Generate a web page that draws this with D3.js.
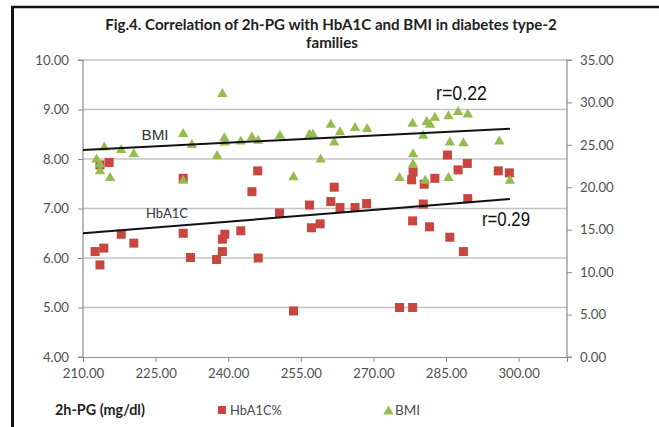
<!DOCTYPE html>
<html><head><meta charset="utf-8">
<script src="https://cdn.jsdelivr.net/npm/d3@7"></script>
<style>html,body{margin:0;padding:0;background:#fff;}svg{display:block;}</style>
</head><body>
<svg id="chart" width="659" height="427"></svg>
<script>
// ---- data ----
const pg = [212.5,213.5,214.3,213.5,215.4,217.9,220.5,230.7,230.7,232.2,237.6,238.8,238.8,239.3,242.6,244.9,246.1,246.2,250.6,253.5,256.8,257.2,259.0,261.2,261.9,263.1,266.2,268.6,275.4,278.1,278.1,278.2,277.9,280.5,280.3,281.6,282.7,285.3,285.8,287.5,288.6,289.4,289.5,295.8,298.1];
const hba1c = [6.13,5.86,6.20,7.88,7.93,6.48,6.30,7.61,6.50,6.01,5.97,6.13,6.38,6.48,6.55,7.34,7.76,6.00,6.91,4.93,7.07,6.61,6.69,7.14,7.43,7.02,7.02,7.10,5.00,5.00,6.75,7.74,7.58,7.49,7.09,6.63,7.61,8.08,6.42,7.78,6.13,7.91,7.20,7.76,7.72];
const pgB = [212.8,213.5,213.5,214.4,215.6,217.9,220.5,230.7,232.5,230.7,237.7,238.8,239.2,239.3,242.6,244.9,246.2,250.7,253.5,256.8,257.5,259.1,261.2,261.9,263.1,266.2,268.7,275.4,278.1,278.2,278.2,280.3,281.0,281.7,280.7,282.7,285.5,285.5,285.8,287.5,288.6,289.5,296.0,298.2];
const bmi = [23.4,22.8,22.0,24.8,21.2,24.5,24.0,26.4,25.1,20.9,23.8,31.1,25.9,25.4,25.5,26.0,25.6,26.2,21.3,26.3,26.3,23.4,27.5,25.4,26.6,27.1,27.0,21.2,27.6,24.0,22.8,26.2,27.8,27.5,20.9,28.3,28.5,21.2,25.4,29.0,25.3,28.7,25.5,20.9];
const trendX = [210, 298.2];
const trendHb = [6.5, 7.19];
const trendBmi = [24.4, 26.9];
const xTicks = [210,225,240,255,270,285,300];
const leftTicks = [4,5,6,7,8,9,10];
const rightTicks = [0,5,10,15,20,25,30,35];
const titleLines = ["Fig.4. Correlation of 2h-PG with HbA1C and BMI in diabetes type-2","families"];

// ---- chart ----
const svg = d3.select("#chart");
const L = 83, R = 567, T = 60, B = 357;
const x = d3.scaleLinear().domain([210,310]).range([L,R]);
const yL = d3.scaleLinear().domain([4,10]).range([B,T]);
const yR = d3.scaleLinear().domain([0,35]).range([B,T]);
const fmt = d3.format(".2f");
const tickFont = "Lato, 'Open Sans', sans-serif";
const red = "#c8463f", green = "#96bc4f";

function fit(sel, w){
  const n = sel.node(); const fs = parseFloat(sel.attr("font-size"));
  const m = n.getComputedTextLength(); if (m>0) sel.attr("font-size", fs*w/m);
  return sel;
}

// frame
svg.append("line").attr("x1",12.5).attr("x2",12.5).attr("y1",6).attr("y2",427).attr("stroke","#111").attr("stroke-width",3);
svg.append("line").attr("x1",11).attr("x2",659).attr("y1",7).attr("y2",7).attr("stroke","#111").attr("stroke-width",2.5);

// title
const t1 = svg.append("text").attr("x",331).attr("y",30).attr("text-anchor","middle").attr("font-family",tickFont).attr("font-weight","bold").attr("font-size",14).attr("fill","#222").text(titleLines[0]);
fit(t1, 452);
svg.append("text").attr("x",332).attr("y",48).attr("text-anchor","middle").attr("font-family",tickFont).attr("font-weight","bold").attr("font-size",t1.attr("font-size")).attr("fill","#222").text(titleLines[1]);

// gridlines
svg.append("g").selectAll("line").data(leftTicks.slice(1)).join("line")
  .attr("x1",L).attr("x2",R).attr("y1",d=>yL(d)).attr("y2",d=>yL(d))
  .attr("stroke","#c4c4c4").attr("stroke-width",1.3);

// axes
const gx = svg.append("g").attr("transform",`translate(0,${B})`)
  .call(d3.axisBottom(x).tickValues(xTicks).tickFormat(fmt).tickSize(5).tickPadding(7));
const gl = svg.append("g").attr("transform",`translate(${L},0)`)
  .call(d3.axisLeft(yL).tickValues(leftTicks).tickFormat(fmt).tickSize(5).tickPadding(9));
const gr = svg.append("g").attr("transform",`translate(${R},0)`)
  .call(d3.axisRight(yR).tickValues(rightTicks).tickFormat(fmt).tickSize(5).tickPadding(8));
[gx,gl,gr].forEach(g=>{
  g.select(".domain").attr("stroke","#8c8c8c").attr("stroke-width",1.2);
  g.selectAll(".tick line").attr("stroke","#8c8c8c");
  g.selectAll(".tick text").attr("font-family",tickFont).attr("font-size",13.2).attr("fill","#505050");
});
gl.select(".domain").attr("d",`M-5,${T}H0V${B}H-5`);
gr.select(".domain").attr("d",`M5,${T}H0V${B}H5`);

// markers
svg.append("g").selectAll("rect").data(pg).join("rect")
  .attr("x",(d)=>x(d)-4.5).attr("y",(d,i)=>yL(hba1c[i])-4.5).attr("width",9).attr("height",9)
  .attr("fill",red);
const tri = (cx,cy)=>`M${cx},${cy-5}L${cx+5.2},${cy+4}L${cx-5.2},${cy+4}Z`;
svg.append("g").selectAll("path").data(pgB).join("path")
  .attr("d",(d,i)=>tri(x(d), yR(bmi[i]))).attr("fill",green);

// trendlines
const lineL = d3.line().x(d=>x(d[0])).y(d=>yL(d[1]));
const lineR = d3.line().x(d=>x(d[0])).y(d=>yR(d[1]));
svg.append("path").attr("d",lineL(trendX.map((v,i)=>[v,trendHb[i]]))).attr("stroke","#111").attr("stroke-width",2).attr("fill","none");
svg.append("path").attr("d",lineR(trendX.map((v,i)=>[v,trendBmi[i]]))).attr("stroke","#111").attr("stroke-width",2).attr("fill","none");

// in-chart labels
svg.append("text").attr("x",141.5).attr("y",140).attr("font-family","'Liberation Sans', Arial, sans-serif").attr("font-size",14).attr("fill","#333").attr("textLength",27).attr("lengthAdjust","spacingAndGlyphs").text("BMI");
svg.append("text").attr("x",146).attr("y",218).attr("font-family",tickFont).attr("font-size",14).attr("fill","#333").attr("textLength",42).attr("lengthAdjust","spacingAndGlyphs").text("HbA1C");
svg.append("text").attr("x",436).attr("y",100).attr("font-family","'Liberation Sans', Arial, sans-serif").attr("font-size",21).attr("fill","#111").attr("textLength",51).attr("lengthAdjust","spacingAndGlyphs").text("r=0.22");
svg.append("text").attr("x",482).attr("y",226).attr("font-family","'Liberation Sans', Arial, sans-serif").attr("font-size",21).attr("fill","#111").attr("textLength",48).attr("lengthAdjust","spacingAndGlyphs").text("r=0.29");

// axis title + legend
const xt = svg.append("text").attr("x",55).attr("y",415).attr("font-family",tickFont).attr("font-weight","bold").attr("font-size",13).attr("fill","#222").text("2h-PG (mg/dl)");
fit(xt, 90);
svg.append("rect").attr("x",218).attr("y",406).attr("width",8).attr("height",8).attr("fill",red);
const l1 = svg.append("text").attr("x",230).attr("y",415).attr("font-family",tickFont).attr("font-size",13).attr("fill","#4a4a4a").text("HbA1C%");
fit(l1, 52);
svg.append("path").attr("d",tri(388.5,410.5)).attr("fill",green);
const l2 = svg.append("text").attr("x",395).attr("y",415).attr("font-family",tickFont).attr("font-size",13).attr("fill","#4a4a4a").text("BMI");
fit(l2, 25);
</script>
</body></html>
